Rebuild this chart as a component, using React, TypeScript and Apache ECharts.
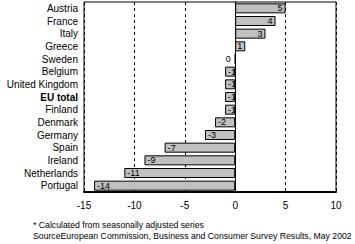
import React, { useEffect, useRef } from "react";
import * as echarts from "echarts";

const countries = [
  "Austria", "France", "Italy", "Greece", "Sweden", "Belgium", "United Kingdom",
  "EU total", "Finland", "Denmark", "Germany", "Spain", "Ireland", "Netherlands", "Portugal",
];
const values = [5, 4, 3, 1, 0, -1, -1, -1, -1, -2, -3, -7, -9, -11, -14];
const xTicks = [-15, -10, -5, 0, 5, 10];
const footnotes = [
  "* Calculated from seasonally adjusted series",
  "SourceEuropean Commission, Business and Consumer Survey Results, May 2002",
];

const FONT = "Liberation Sans, Arial, sans-serif";

export default function App() {
  const ref = useRef<HTMLDivElement>(null);
  useEffect(() => {
    if (!ref.current) return;
    const chart = echarts.init(ref.current, undefined, { renderer: "svg" });
    chart.setOption({
      animation: false,
      backgroundColor: "#ffffff",
      grid: {
        left: 84, right: 19, top: 2, bottom: 52,
        show: true, borderColor: "#000", borderWidth: 1,
      },
      xAxis: {
        type: "value",
        min: xTicks[0],
        max: xTicks[xTicks.length - 1],
        interval: 5,
        axisLine: { show: true, lineStyle: { color: "#000", width: 2 } },
        axisTick: { show: false },
        axisLabel: { color: "#000", fontSize: 10, fontFamily: FONT, margin: 8 },
        splitLine: {
          show: true,
          lineStyle: { color: "#000", type: [3, 3], width: 1 },
        },
      },
      yAxis: {
        type: "category",
        data: countries,
        inverse: true,
        axisLine: { show: true, onZero: true, lineStyle: { color: "#000", width: 1 } },
        axisTick: { show: false },
        axisLabel: {
          interval: 0,
          color: "#000", fontSize: 10, fontFamily: FONT, margin: 6,
          formatter: (v: string) => (v === "EU total" ? "{b|" + v + "}" : v),
          rich: { b: { fontWeight: "bold", fontSize: 10, fontFamily: FONT, color: "#000" } },
        },
        splitLine: { show: false },
      },
      series: [
        {
          type: "bar",
          barWidth: 10,
          data: values.map((v) => ({
            value: v,
            label: {
              show: true,
              position: v > 0 ? "insideRight" : v < 0 ? "insideLeft" : "left",
              distance: v === 0 ? 4 : 3,
            },
          })),
          itemStyle: { color: "#c0c0c0", borderColor: "#000", borderWidth: 1 },
          label: { color: "#000", fontSize: 9, fontFamily: FONT },
          z: 3,
        },
      ],
      graphic: footnotes.map((t, i) => ({
        type: "text",
        left: 33,
        top: 220 + i * 11,
        style: { text: t, fontSize: 8.7, fontFamily: FONT, fill: "#000" },
      })),
    });
    return () => chart.dispose();
  }, []);
  return (
    <div
      ref={ref}
      style={{ position: "fixed", left: 0, top: 0, width: 355, height: 244 }}
    />
  );
}
